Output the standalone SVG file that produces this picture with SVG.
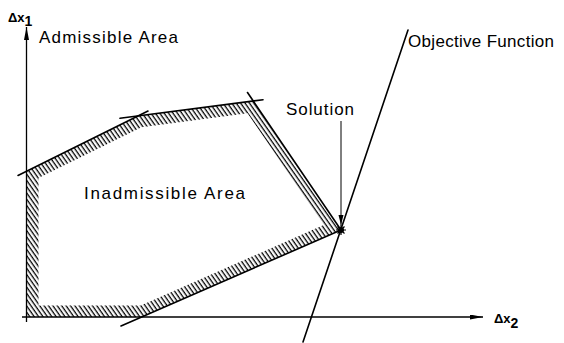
<svg xmlns="http://www.w3.org/2000/svg" width="564" height="343" viewBox="0 0 564 343">
<style>
.ln{stroke:#000;stroke-width:1.6;fill:none;stroke-linecap:round}
.ax{stroke:#000;stroke-width:1.3;fill:none}
.t{font-family:"Liberation Sans",Arial,sans-serif;font-size:17px;fill:#000}
.ab{font-family:"Liberation Sans",Arial,sans-serif;font-weight:bold;fill:#000}
</style>
<defs>
<pattern id="hatch" patternUnits="userSpaceOnUse" width="3.6" height="4" patternTransform="rotate(-35)">
<line x1="1.2" y1="0" x2="1.2" y2="4" stroke="#000" stroke-width="1.3"/>
</pattern>
<marker id="ah" viewBox="0 0 10 6" refX="10" refY="3" markerWidth="10" markerHeight="6" markerUnits="userSpaceOnUse" orient="auto">
<path d="M0,0.5 L10,3 L0,5.5 Z" fill="#000"/>
</marker>
<marker id="axh" viewBox="0 0 13 5" refX="13" refY="2.5" markerWidth="13" markerHeight="5" markerUnits="userSpaceOnUse" orient="auto">
<path d="M0,0 L13,2.5 L0,5 Z" fill="#000"/>
</marker>
</defs>
<rect width="564" height="343" fill="#fff"/>

<g id="axes">
<line class="ax" x1="26.5" y1="322" x2="26.5" y2="27" marker-end="url(#axh)"/>
<line class="ax" x1="22" y1="317" x2="483" y2="317" marker-end="url(#axh)"/>
<text class="ab" x="8" y="22" font-size="13">Δx<tspan font-size="14" dy="4">1</tspan></text>
<text class="ab" x="494" y="323" font-size="13">Δx<tspan font-size="14" dy="5">2</tspan></text>
</g>

<g id="inadmissible-area">
<path fill="url(#hatch)" fill-rule="evenodd" d="M27,171 L138,116 L253,101 L341,230 L141,317 L27,317 Z M38.5,178.1 L141.5,127.2 L247.5,113.3 L323.6,225.1 L140.8,305.5 L38.5,305.5 Z"/>
<line class="ln" x1="18" y1="175.5" x2="148" y2="111"/>
<line class="ln" x1="120" y1="118.3" x2="263" y2="99.7"/>
<line class="ln" x1="247.5" y1="92.5" x2="341" y2="230"/>
<line class="ln" x1="341" y1="230" x2="121" y2="326"/>
<text class="t" x="84" y="199" textLength="161" lengthAdjust="spacing">Inadmissible  Area</text>
</g>

<g id="admissible-area">
<text class="t" x="39" y="43" textLength="139" lengthAdjust="spacing">Admissible Area</text>
</g>

<g id="objective-function">
<line class="ln" x1="408" y1="30" x2="303" y2="342"/>
<text class="t" x="408" y="47" textLength="146" lengthAdjust="spacing">Objective Function</text>
</g>

<g id="solution">
<circle cx="341" cy="230" r="3" fill="#000"/>
<path d="M336,230 L346,230 M341,225 L341,235 M337.5,226.5 L344.5,233.5 M344.5,226.5 L337.5,233.5" stroke="#000" stroke-width="1.2"/>
<text class="t" x="286" y="115" font-size="17.5" textLength="68" lengthAdjust="spacing">Solution</text>
</g>

<g id="connectors">
<line x1="341" y1="121" x2="341" y2="225" stroke="#000" stroke-width="1" marker-end="url(#ah)"/>
</g>
</svg>
